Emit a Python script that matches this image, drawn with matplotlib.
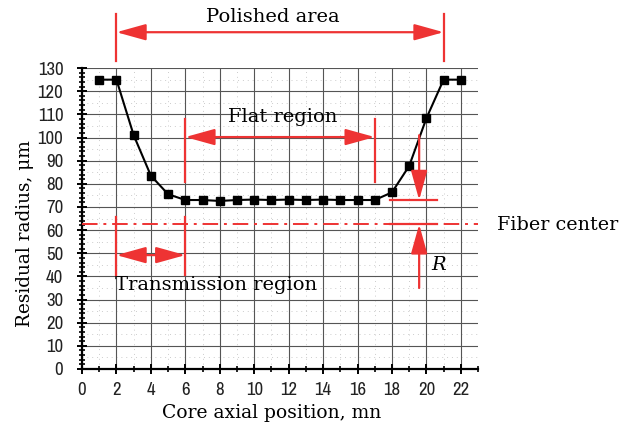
import matplotlib
matplotlib.use("Agg")
import matplotlib.pyplot as plt
from matplotlib.patches import FancyArrowPatch
from matplotlib.ticker import MultipleLocator

# ---- data ----
positions = [1, 2, 3, 4, 5, 6, 7, 8, 9, 10, 11, 12, 13, 14, 15, 16, 17, 18, 19, 20, 21, 22]
radius = [125, 125, 101, 83.5, 75.5, 73, 73, 72.6, 73, 73.2, 73, 73.2, 73, 73.2, 73, 73, 73,
          76.3, 87.7, 108.3, 125, 125]
fiber_center = 62.5
polished = (2, 21)
flat = (6, 17)
transmission = (2, 6)
x_ticks = list(range(0, 23, 2))
y_ticks = list(range(0, 131, 10))

RED = "#ee3333"
SERIF = "DejaVu Serif"
TICKFONT = ["Archivo Narrow", "Liberation Sans"]

fig = plt.figure(figsize=(6.29, 4.25), dpi=100)
ax = fig.add_axes([0.1304, 0.1318, 0.6296, 0.708])
ax.set_xlim(0, 23)
ax.set_ylim(0, 130)

# grid
ax.set_xticks(x_ticks)
ax.set_yticks(y_ticks)
ax.xaxis.set_minor_locator(MultipleLocator(1))
ax.yaxis.set_minor_locator(MultipleLocator(2))
ax.grid(True, which="major", color="#555555", linewidth=0.8, zorder=0)
ax.vlines([1, 3, 5, 7, 9, 11, 13, 15, 17, 19, 21, 23], 0, 130, colors="#cccccc",
          linewidth=0.7, linestyles=(0, (1, 4)), zorder=0)
ax.hlines([5, 15, 25, 35, 45, 55, 65, 75, 85, 95, 105, 115, 125], 0, 23, colors="#cccccc",
          linewidth=0.7, linestyles=(0, (1, 4)), zorder=0)

for s in ["top", "right"]:
    ax.spines[s].set_visible(False)
for s in ["left", "bottom"]:
    ax.spines[s].set_linewidth(1.6)

ax.tick_params(which="major", direction="inout", length=7, width=1.4, labelsize=13.5)
ax.tick_params(which="minor", direction="inout", length=4, width=1.2)
for lab in ax.get_xticklabels() + ax.get_yticklabels():
    lab.set_family(TICKFONT)
    lab.set_color("#222222")
ax.tick_params(axis="x", pad=6)
ax.tick_params(axis="y", pad=10)

ax.set_xlabel("Core axial position, mn", family=SERIF, fontsize=13.5)
ax.set_ylabel("Residual radius, μm", family=SERIF, fontsize=13.3)
ax.xaxis.set_label_coords(0.4795, -0.115)
ax.yaxis.set_label_coords(-0.122, 0.45)

# data line
ax.plot(positions, radius, color="black", linewidth=1.5, marker="s", markersize=5.5,
        zorder=5, clip_on=False)

# ---- annotations ----
def arrow(x0, y0, x1, y1, style="<|-|>"):
    p = FancyArrowPatch((x0, y0), (x1, y1),
                        arrowstyle=f"{style},head_length=1.8,head_width=0.5",
                        mutation_scale=10, color=RED, linewidth=1.6,
                        shrinkA=0, shrinkB=0, clip_on=False, zorder=6)
    ax.add_patch(p)

def vbar(x, y0, y1):
    ax.plot([x, x], [y0, y1], color=RED, linewidth=1.6, clip_on=False, zorder=6)

# Polished area
vbar(polished[0], 133, 153.5)
vbar(polished[1], 133, 153.5)
arrow(polished[0], 145.5, polished[1], 145.5)
ax.text(11.1, 152.0, "Polished area", family=SERIF, fontsize=14,
        ha="center", va="center", clip_on=False)

# Flat region
vbar(flat[0], 81, 108)
vbar(flat[1], 81, 108)
arrow(flat[0], 100.2, flat[1], 100.2)
ax.text(11.65, 108.7, "Flat region", family=SERIF, fontsize=14,
        ha="center", va="center")

# Transmission region
vbar(transmission[0], 40.5, 65.5)
vbar(transmission[1], 40.5, 65.5)
arrow(transmission[0], 49.2, transmission[1], 49.2)
ax.text(1.9, 36.3, "Transmission region", family=SERIF, fontsize=14,
        ha="left", va="center")

# Fiber center
ax.plot([0, 23], [fiber_center, fiber_center], color=RED, linewidth=1.4,
        linestyle=(0, (8, 3, 1.5, 3)), clip_on=False, zorder=4)
ax.text(24.1, 62.0, "Fiber center", family=SERIF, fontsize=13.8,
        ha="left", va="center", clip_on=False)

# R indicator
ax.plot([17.9, 20.6], [73.0, 73.0], color=RED, linewidth=1.6, zorder=6)
ax.plot([17.9, 20.6], [fiber_center, fiber_center], color=RED, linewidth=1.6, zorder=6)
arrow(19.58, 101, 19.58, 73.0, style="-|>")
arrow(19.58, 35, 19.58, fiber_center, style="-|>")
ax.text(20.3, 45, "R", family=SERIF, fontsize=14, style="italic",
        ha="left", va="center")

fig.savefig("out.png", dpi=100)
